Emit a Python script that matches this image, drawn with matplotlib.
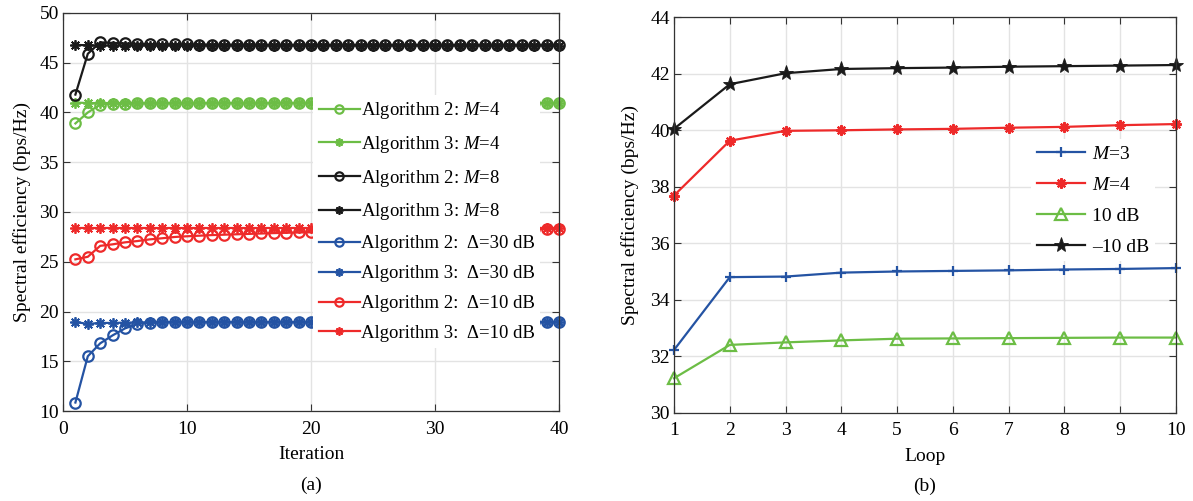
import numpy as np
import matplotlib
matplotlib.use('Agg')
import matplotlib.pyplot as plt

plt.rcParams['font.family'] = ['Liberation Serif', 'DejaVu Serif']
plt.rcParams['mathtext.fontset'] = 'custom'
plt.rcParams['mathtext.it'] = 'Liberation Serif:italic'
plt.rcParams['mathtext.rm'] = 'Liberation Serif'

# ---- (a) convergence vs. iteration ----
iters = np.arange(1, 41)

alg2_m4 = [38.9, 40.0, 40.8, 40.9, 40.9, 40.92, 40.92, 40.93, 40.93, 40.93,
           40.94, 40.94, 40.94, 40.94, 40.94, 40.94, 40.95, 40.95, 40.95, 40.95,
           40.95, 40.95, 40.95, 40.95, 40.95, 40.95, 40.95, 40.95, 40.95, 40.95,
           40.95, 40.95, 40.95, 40.95, 40.95, 40.95, 40.95, 40.95, 40.95, 40.95]
alg3_m4 = [41.0, 40.95, 40.95, 40.95, 40.95, 40.95, 40.95, 40.95, 40.95, 40.95,
           40.95, 40.95, 40.95, 40.95, 40.95, 40.95, 40.95, 40.95, 40.95, 40.95,
           40.95, 40.95, 40.95, 40.95, 40.95, 40.95, 40.95, 40.95, 40.95, 40.95,
           40.95, 40.95, 40.95, 40.95, 40.95, 40.95, 40.95, 40.95, 40.95, 40.95]
alg2_m8 = [41.8, 45.9, 47.05, 47.0, 46.95, 46.9, 46.88, 46.86, 46.85, 46.84,
           46.83, 46.82, 46.82, 46.81, 46.81, 46.8, 46.8, 46.8, 46.8, 46.8,
           46.8, 46.8, 46.8, 46.8, 46.8, 46.8, 46.8, 46.8, 46.8, 46.8,
           46.8, 46.8, 46.8, 46.8, 46.8, 46.8, 46.8, 46.8, 46.8, 46.8]
alg3_m8 = [46.8, 46.75, 46.72, 46.72, 46.72, 46.72, 46.72, 46.72, 46.72, 46.72,
           46.72, 46.72, 46.72, 46.72, 46.72, 46.72, 46.72, 46.72, 46.72, 46.72,
           46.72, 46.72, 46.72, 46.72, 46.72, 46.72, 46.72, 46.72, 46.72, 46.72,
           46.72, 46.72, 46.72, 46.72, 46.72, 46.72, 46.72, 46.72, 46.72, 46.72]
alg2_d30 = [10.85, 15.5, 16.8, 17.6, 18.3, 18.75, 18.88, 18.92, 18.93, 18.93,
            18.93, 18.93, 18.93, 18.93, 18.93, 18.93, 18.93, 18.93, 18.93, 18.93,
            18.93, 18.93, 18.93, 18.93, 18.93, 18.93, 18.93, 18.93, 18.93, 18.93,
            18.93, 18.93, 18.93, 18.93, 18.93, 18.93, 18.93, 18.93, 18.93, 18.93]
alg3_d30 = [18.95, 18.75, 18.85, 18.85, 18.88, 18.9, 18.92, 18.93, 18.93, 18.93,
            18.93, 18.93, 18.93, 18.93, 18.93, 18.93, 18.93, 18.93, 18.93, 18.93,
            18.93, 18.93, 18.93, 18.93, 18.93, 18.93, 18.93, 18.93, 18.93, 18.93,
            18.93, 18.93, 18.93, 18.93, 18.93, 18.93, 18.93, 18.93, 18.93, 18.93]
alg2_d10 = [25.24, 25.5, 26.6, 26.75, 26.95, 27.08, 27.25, 27.36, 27.49, 27.56,
            27.62, 27.68, 27.72, 27.76, 27.8, 27.84, 27.88, 27.91, 27.94, 27.96,
            27.99, 28.02, 28.05, 28.07, 28.09, 28.11, 28.13, 28.15, 28.17, 28.19,
            28.2, 28.22, 28.23, 28.25, 28.26, 28.28, 28.29, 28.3, 28.31, 28.32]
alg3_d10 = [28.36, 28.36, 28.36, 28.36, 28.36, 28.36, 28.36, 28.36, 28.36, 28.36,
            28.36, 28.36, 28.36, 28.36, 28.36, 28.36, 28.36, 28.36, 28.36, 28.36,
            28.36, 28.36, 28.36, 28.36, 28.36, 28.36, 28.36, 28.36, 28.36, 28.36,
            28.36, 28.36, 28.36, 28.36, 28.36, 28.36, 28.36, 28.36, 28.36, 28.36]

# ---- (b) spectral efficiency vs. loop ----
loops = np.arange(1, 11)
se_m3 = [32.22, 34.8, 34.82, 34.96, 35.0, 35.02, 35.04, 35.07, 35.09, 35.12]
se_m4 = [37.69, 39.63, 39.98, 40.0, 40.03, 40.05, 40.09, 40.12, 40.18, 40.22]
se_10db = [31.22, 32.4, 32.49, 32.56, 32.62, 32.63, 32.64, 32.65, 32.66, 32.66]
se_m10db = [40.05, 41.63, 42.02, 42.17, 42.2, 42.22, 42.25, 42.27, 42.29, 42.31]

GREEN = '#6cbd45'
BLACK = '#1a1a1a'
BLUE = '#2453a3'
RED = '#ee2a2a'
ASTER = (8, 2, 0)


def style_axes(ax):
    ax.grid(True, color='#e3e3e3', linewidth=1.0)
    ax.set_axisbelow(True)
    ax.tick_params(direction='in', top=True, right=True, labelsize=14,
                   length=5, color='#333333', pad=3)
    ax.tick_params(axis='x', pad=7)
    for s in ax.spines.values():
        s.set_color('#333333')
        s.set_linewidth(0.9)


W, H = 1193, 501
fig = plt.figure(figsize=(W / 100, H / 100), dpi=100)

ax1 = fig.add_axes([63 / W, 1 - 411 / H, (559 - 63) / W, (411 - 13) / H])
style_axes(ax1)
lw = 1.6
circ = dict(marker='o', mfc='none', ms=7.5, mew=1.6, lw=lw, clip_on=False)
star = dict(marker=ASTER, ms=7.5, mew=1.3, lw=lw, clip_on=False)
ax1.plot(iters, alg2_m4, color=GREEN, label=r'Algorithm 2: $M$=4', **circ)
ax1.plot(iters, alg3_m4, color=GREEN, label=r'Algorithm 3: $M$=4', **star)
ax1.plot(iters, alg2_m8, color=BLACK, label=r'Algorithm 2: $M$=8', **circ)
ax1.plot(iters, alg3_m8, color=BLACK, label=r'Algorithm 3: $M$=8', **star)
ax1.plot(iters, alg2_d30, color=BLUE, label='Algorithm 2:  Δ=30 dB', **circ)
ax1.plot(iters, alg3_d30, color=BLUE, label='Algorithm 3:  Δ=30 dB', **star)
ax1.plot(iters, alg2_d10, color=RED, label='Algorithm 2:  Δ=10 dB', **circ)
ax1.plot(iters, alg3_d10, color=RED, label='Algorithm 3:  Δ=10 dB', **star)
ax1.set_xlim(0, 40)
ax1.set_ylim(10, 50)
ax1.set_xticks([0, 10, 20, 30, 40])
ax1.set_yticks([10, 15, 20, 25, 30, 35, 40, 45, 50])
ax1.set_xlabel('Iteration', fontsize=14, labelpad=6)
ax1.set_ylabel('Spectral efficiency (bps/Hz)', fontsize=14, labelpad=6)
leg1 = ax1.legend(loc='upper left', bbox_to_anchor=(0.504, 0.795), fontsize=13.5,
                  frameon=True, fancybox=False, edgecolor='none', framealpha=1,
                  handlelength=2.2, handletextpad=0.05, labelspacing=0.68,
                  borderpad=0.3, borderaxespad=0)
for h in leg1.legend_handles:
    h.set_markersize(6)
ax1.text(0.5, -0.165, '(a)', transform=ax1.transAxes, ha='center', va='top',
         fontsize=14)

ax2 = fig.add_axes([674 / W, 1 - 412.7 / H, (1176 - 674) / W, (412.7 - 17.3) / H])
style_axes(ax2)
ax2.plot(loops, se_m3, color=BLUE, marker='+', ms=7.5, mew=1.6, lw=1.6,
         clip_on=False, label=r'$M$=3')
ax2.plot(loops, se_m4, color=RED, marker=ASTER, ms=7.5, mew=1.6, lw=1.6,
         clip_on=False, label=r'$M$=4')
ax2.plot(loops, se_10db, color=GREEN, marker='^', mfc='none', ms=8, mew=1.6,
         lw=1.6, clip_on=False, label='10 dB')
ax2.plot(loops, se_m10db, color=BLACK, marker='*', ms=11, mew=0.6, lw=1.6,
         clip_on=False, label='\u201310 dB')
ax2.set_xlim(1, 10)
ax2.set_ylim(30, 44)
ax2.set_xticks(loops)
ax2.set_yticks([30, 32, 34, 36, 38, 40, 42, 44])
ax2.set_xlabel('Loop', fontsize=14, labelpad=6)
ax2.set_ylabel('Spectral efficiency (bps/Hz)', fontsize=14, labelpad=8)
ax2.legend(loc='upper left', bbox_to_anchor=(0.711, 0.692), fontsize=14,
           frameon=True, fancybox=False, edgecolor='none', framealpha=1,
           handlelength=2.46, handletextpad=0.4, labelspacing=0.69,
           borderpad=0.3, borderaxespad=0)
ax2.text(0.5, -0.165, '(b)', transform=ax2.transAxes, ha='center', va='top',
         fontsize=14)

fig.savefig('out.png', dpi=100)
